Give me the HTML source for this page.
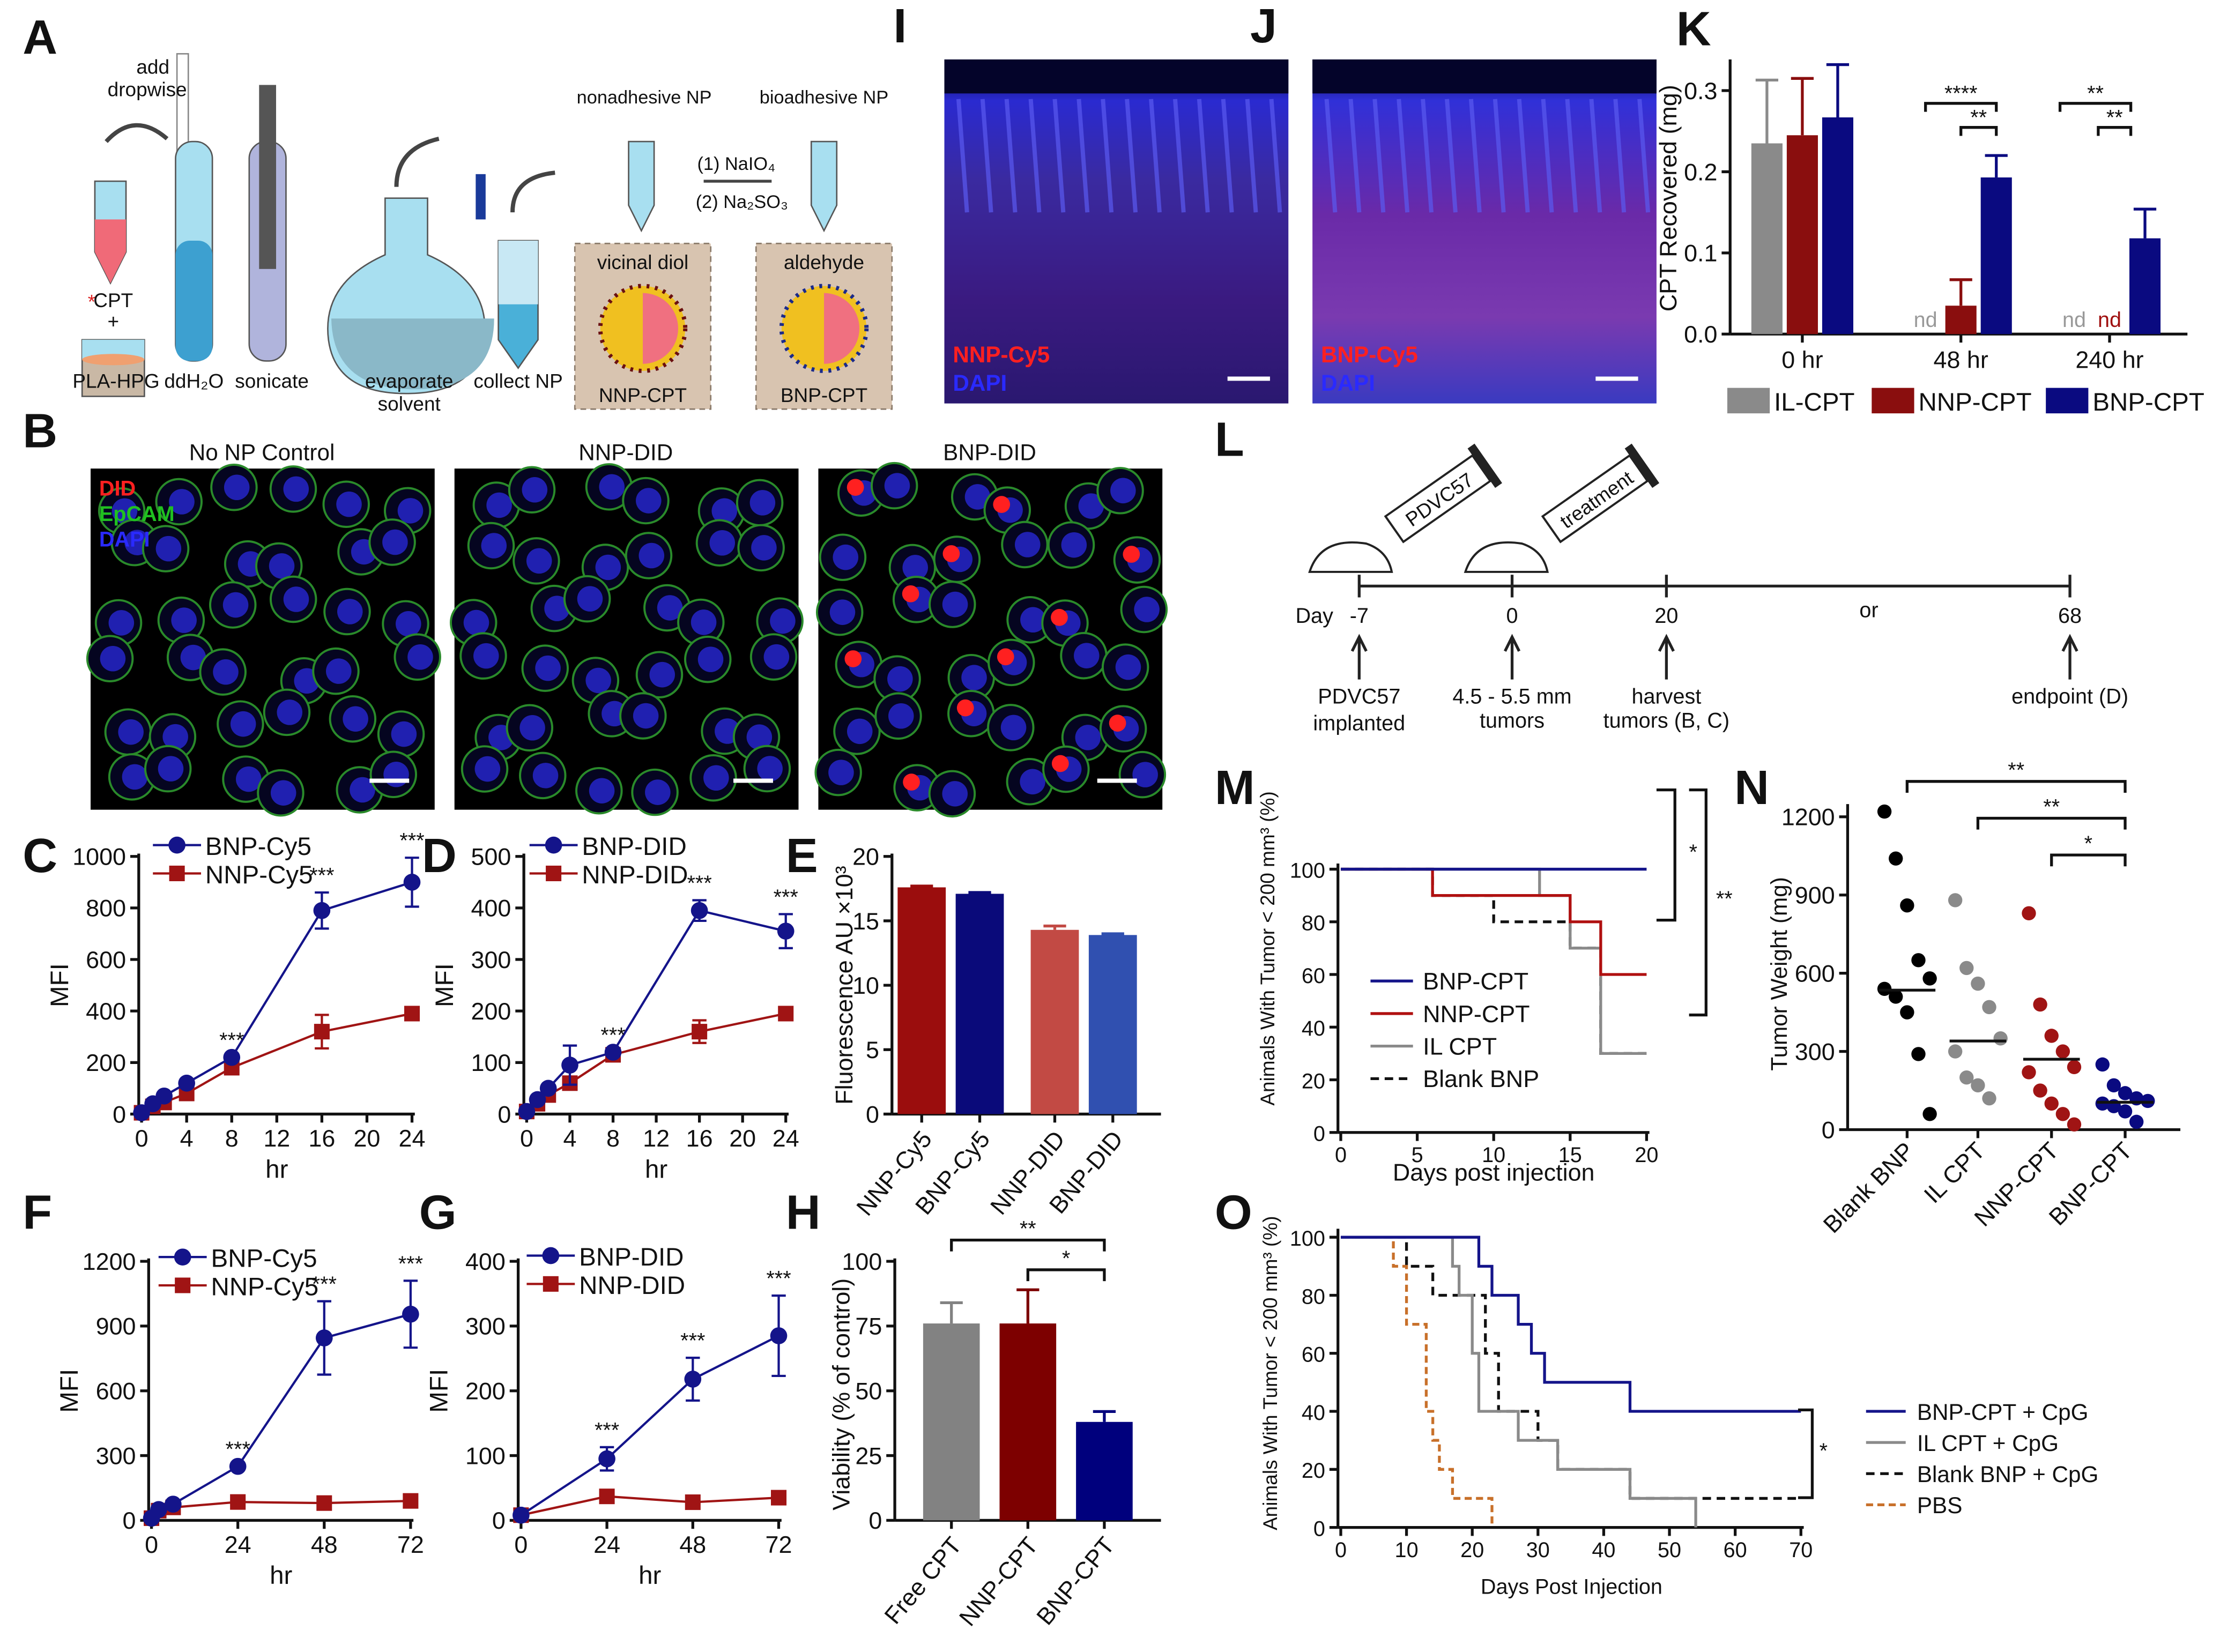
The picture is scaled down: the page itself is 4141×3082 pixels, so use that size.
<!DOCTYPE html>
<html><head><meta charset="utf-8">
<style>
html,body{margin:0;padding:0;background:#fff;}
svg{display:block;font-family:"Liberation Sans",Arial,sans-serif;}
</style></head>
<body>
<svg id="fig" xmlns="http://www.w3.org/2000/svg" width="4141" height="3082" viewBox="0 0 1568 1167">
<defs>
<linearGradient id="tissI" x1="0" y1="0" x2="0" y2="1">
<stop offset="0" stop-color="#04043a"/><stop offset="0.12" stop-color="#2a2ad0"/><stop offset="0.35" stop-color="#3a2aa0"/><stop offset="0.7" stop-color="#3a1a80"/><stop offset="1" stop-color="#2a1870"/></linearGradient>
<linearGradient id="tissJ" x1="0" y1="0" x2="0" y2="1">
<stop offset="0" stop-color="#04043a"/><stop offset="0.12" stop-color="#3030d8"/><stop offset="0.45" stop-color="#6a2aa8"/><stop offset="0.75" stop-color="#7a3ab0"/><stop offset="1" stop-color="#3a3ac0"/></linearGradient>
</defs>
<g id="root"></g>
</svg>
<script>
// ---------- DATA ----------
const cX = [0,1,2,4,8,16,24];
const cBNP = [5,40,70,120,220,790,900];
const cBNPerr = [0,0,0,0,0,70,95];
const cNNP = [5,30,45,80,180,320,390];
const cNNPerr = [0,0,0,0,0,65,0];
const cTicksY = [0,200,400,600,800,1000];
const cTicksX = [0,4,8,12,16,20,24];

const dX = [0,1,2,4,8,16,24];
const dBNP = [5,28,50,95,120,395,355];
const dBNPerr = [0,0,0,38,0,20,33];
const dNNP = [5,20,37,60,115,160,195];
const dNNPerr = [0,0,0,0,0,22,0];
const dTicksY = [0,100,200,300,400,500];

const eCats = ["NNP-Cy5","BNP-Cy5","NNP-DID","BNP-DID"];
const eVals = [17.6,17.1,14.3,13.9];
const eErr = [0.1,0.1,0.3,0.1];
const eTicksY = [0,5,10,15,20];

const fX = [0,2,6,24,48,72];
const fBNP = [10,50,75,250,845,955];
const fBNPerr = [0,0,0,0,170,155];
const fNNP = [10,45,60,85,80,90];
const fTicksY = [0,300,600,900,1200];
const fTicksX = [0,24,48,72];

const gX = [0,24,48,72];
const gBNP = [8,95,218,285];
const gBNPerr = [0,18,33,62];
const gNNP = [8,37,28,35];
const gTicksY = [0,100,200,300,400];

const hCats = ["Free CPT","NNP-CPT","BNP-CPT"];
const hVals = [76,76,38];
const hErr = [8,13,4];
const hTicksY = [0,25,50,75,100];

const kGroups = ["0 hr","48 hr","240 hr"];
const kIL = [0.235,null,null];
const kILerr = [0.078,0,0];
const kNNP = [0.245,0.035,null];
const kNNPerr = [0.07,0.032,0];
const kBNP = [0.267,0.193,0.118];
const kBNPerr = [0.065,0.027,0.036];
const kTicksY = [0,0.1,0.2,0.3];

const mBNPt = [0,20]; const mBNPv = [100,100];
const mNNPt = [0,6,15,17,20]; const mNNPv = [100,90,80,60,60];
const mILt = [0,13,15,17,20]; const mILv = [100,90,70,30,30];
const mBlankt = [0,6,10,15,17,20]; const mBlankv = [100,90,80,70,30,30];
const mTicksX = [0,5,10,15,20];
const mTicksY = [0,20,40,60,80,100];

const nCats = ["Blank BNP","IL CPT","NNP-CPT","BNP-CPT"];
const nBlank = [1220,1040,860,650,580,540,510,450,290,60];
const nIL = [880,620,560,470,350,300,200,170,120];
const nNNP = [830,480,360,300,240,220,150,100,60,20];
const nBNP = [250,170,140,120,110,100,90,70,30];
const nMeans = [535,340,270,105];
const nTicksY = [0,300,600,900,1200];

const oBNPt = [0,21,23,27,29,31,44,70]; const oBNPv = [100,90,80,70,60,50,40,40];
const oILt = [0,17,18,20,21,27,33,44,54]; const oILv = [100,90,80,60,40,30,20,10,0];
const oBlankt = [0,10,14,17,22,24,30,33,44,70]; const oBlankv = [100,90,80,80,60,40,30,20,10,10];
const oPBSt = [0,8,10,13,14,15,17,23]; const oPBSv = [100,90,70,40,30,20,10,0];
const oTicksX = [0,10,20,30,40,50,60,70];
const oTicksY = [0,20,40,60,80,100];

// ---------- helpers ----------
const NS = "http://www.w3.org/2000/svg";
const root = document.getElementById("root");
function el(tag, attrs, parent, text){
  const e = document.createElementNS(NS, tag);
  for (const k in attrs) e.setAttribute(k, attrs[k]);
  if (text !== undefined) e.textContent = text;
  (parent || root).appendChild(e);
  return e;
}
function grp(name, parent){
  const g = el("g", {}, parent);
  
  
  return g;
}
function txt(parent, x, y, s, size, opts){
  opts = opts || {};
  const t = el("text", {x:x, y:y, "font-size":size, fill:opts.fill||"#111", "text-anchor":opts.anchor||"start", "font-weight":opts.weight||"normal"}, parent, s);
  if (opts.rot) t.setAttribute("transform", "rotate("+opts.rot+" "+x+" "+y+")");
  if (opts.italic) t.setAttribute("font-style","italic");
  return t;
}
function lin(d0,d1,r0,r1){ return v => r0 + (v-d0)/(d1-d0)*(r1-r0); }
const BLUE="#14148a", RED="#a01414", GREY="#8a8a8a";

function panelLetter(ch, x, y){
  const t = txt(root, x, y, ch, 34, {weight:"bold"});
  
  
}

function axes(g, x0, x1, y0, y1, sx, sy, xt, yt, xfmt, yfmt, fs){
  fs = fs || 17;
  el("line",{x1:x0,y1:y1-2,x2:x0,y2:y0,stroke:"#111","stroke-width":2},g);
  el("line",{x1:x0,y1:y0,x2:x1,y2:y0,stroke:"#111","stroke-width":2},g);
  const ya = grp("y-axis", g);
  yt.forEach(v=>{ const y=sy(v); el("line",{x1:x0-6,y1:y,x2:x0,y2:y,stroke:"#111","stroke-width":2},ya);
    txt(ya, x0-9, y+6, yfmt?yfmt(v):String(v), fs, {anchor:"end"}); });
  if (xt){ const xa = grp("x-axis", g);
    xt.forEach(v=>{ const x=sx(v); el("line",{x1:x,y1:y0,x2:x,y2:y0+6,stroke:"#111","stroke-width":2},xa);
      txt(xa, x, y0+fs+6, xfmt?xfmt(v):String(v), fs, {anchor:"middle"}); }); }
}

function series(g, name, xs, ys, errs, sx, sy, color, marker){
  const s = grp(name, g);
  let d = xs.map((x,i)=>(i?"L":"M")+sx(x)+","+sy(ys[i])).join(" ");
  el("path",{d:d,fill:"none",stroke:color,"stroke-width":1.6},s);
  xs.forEach((x,i)=>{
    const cx=sx(x), cy=sy(ys[i]);
    if (errs && errs[i]>0){
      el("path",{d:"M"+cx+","+sy(ys[i]-errs[i])+"V"+sy(ys[i]+errs[i])+"M"+(cx-5)+","+sy(ys[i]+errs[i])+"h10M"+(cx-5)+","+sy(ys[i]-errs[i])+"h10",stroke:color,"stroke-width":1.6,fill:"none"},s);
    }
    let m;
    if (marker==="circle") m = el("circle",{cx:cx,cy:cy,r:6,fill:color},s);
    else m = el("rect",{x:cx-5.5,y:cy-5.5,width:11,height:11,fill:color},s);
    
    
  });
}

function legendLine(g, x, y, label, color, marker, fs){
  const l = grp("legend-entry", g);
  el("line",{x1:x,y1:y,x2:x+34,y2:y,stroke:color,"stroke-width":1.6},l);
  if (marker==="circle") el("circle",{cx:x+17,cy:y,r:6,fill:color},l);
  else el("rect",{x:x+11.5,y:y-5.5,width:11,height:11,fill:color},l);
  txt(l, x+37, y+7, label, fs||18);
}

function lineChart(name, box, xDom, yDom, xt, yt, xs1, y1, e1, xs2, y2, e2, stars, legendPos, labels, xlabel){
  const g = grp(name);
  const sx = lin(xDom[0],xDom[1],box[0],box[1]);
  const sy = lin(yDom[0],yDom[1],box[2],box[3]);
  axes(g, box[0]-2, box[1]+2, box[2], box[3], sx, sy, xt, yt);
  txt(g, box[0]-52, (box[2]+box[3])/2, "MFI", 18, {rot:-90, anchor:"middle"});
  txt(g, (box[0]+box[1])/2, box[2]+45, xlabel, 18, {anchor:"middle"});
  series(g, "nnp-series", xs2, y2, e2, sx, sy, RED, "square");
  series(g, "bnp-series", xs1, y1, e1, sx, sy, BLUE, "circle");
  stars.forEach(i=>{ const top = y1[i] + (e1[i]||0); txt(g, sx(xs1[i]), sy(top)-7, "***", 15, {anchor:"middle"}); });
  legendLine(g, legendPos[0], legendPos[1], labels[0], BLUE, "circle");
  legendLine(g, legendPos[0], legendPos[1]+20, labels[1], RED, "square");
}

function bar(g, name, x, w, v, err, sy, color){
  const b = grp(name, g);
  const r = el("rect",{x:x,y:sy(v),width:w,height:sy(0)-sy(v),fill:color},b);
  if (err>0) el("path",{d:"M"+(x+w/2)+","+sy(v)+"V"+sy(v+err)+"M"+(x+w/2-8)+","+sy(v+err)+"h16",stroke:color,"stroke-width":2,fill:"none"},b);
  return r;
}

function stepPath(g, name, ts, vs, sx, sy, color, dash){
  const s = grp(name, g);
  let d = "M"+sx(ts[0])+","+sy(vs[0]);
  for (let i=1;i<ts.length;i++){ d += " H"+sx(ts[i])+" V"+sy(vs[i]); }
  const p = el("path",{d:d,fill:"none",stroke:color,"stroke-width":2},s);
  if (dash) p.setAttribute("stroke-dasharray", dash);
}

// ---------- Panel A (schematic) ----------
(function(){
  const g = grp("panel-a-schematic");
  panelLetter("A", 16, 38);
  el("rect",{x:125,y:38,width:8,height:110,fill:"#fff",stroke:"#888"},g);
  txt(g, 108, 52, "add", 14, {anchor:"middle"}); txt(g, 104, 68, "dropwise", 14, {anchor:"middle"});
  el("path",{d:"M75,100 Q95,78 118,98",stroke:"#444","stroke-width":3,fill:"none"},g);
  el("path",{d:"M67,128 h22 v50 l-11,22 l-11,-22z",fill:"#a8dff0",stroke:"#555"},g);
  el("path",{d:"M67,155 h22 v23 l-11,22 l-11,-22z",fill:"#f06a78"},g);
  txt(g, 62, 218, "*", 14, {fill:"#d22"}); txt(g, 80, 217, "CPT", 14, {anchor:"middle"}); txt(g,80,232,"+",14,{anchor:"middle"});
  el("rect",{x:58,y:240,width:44,height:40,fill:"#c9b8a5",stroke:"#555"},g);
  el("rect",{x:58,y:240,width:44,height:14,fill:"#a8dff0"},g);
  el("ellipse",{cx:80,cy:254,rx:22,ry:4,fill:"#f0a070"},g);
  txt(g, 82, 274, "PLA-HPG", 14, {anchor:"middle"});
  el("rect",{x:124,y:100,width:26,height:155,rx:12,fill:"#a8dff0",stroke:"#555"},g);
  el("rect",{x:124,y:170,width:26,height:85,rx:10,fill:"#3da0d0"},g);
  txt(g, 137, 274, "ddH\u2082O", 14, {anchor:"middle"});
  el("rect",{x:176,y:100,width:26,height:155,rx:12,fill:"#b0b4dc",stroke:"#555"},g);
  el("rect",{x:183,y:60,width:12,height:130,fill:"#555"},g);
  txt(g, 192, 274, "sonicate", 14, {anchor:"middle"});
  el("path",{d:"M272,140 h30 v40 q45,20 40,60 q-5,38 -55,38 q-50,0 -55,-38 q-5,-40 40,-60z",fill:"#a8dff0",stroke:"#555"},g);
  el("path",{d:"M234,225 h115 q0,50 -57,50 q-57,0 -58,-50z",fill:"#8ab8c8"},g);
  txt(g, 289, 274, "evaporate", 14, {anchor:"middle"}); txt(g, 289, 290, "solvent", 14, {anchor:"middle"});
  el("path",{d:"M280,132 Q280,105 310,98",stroke:"#444","stroke-width":3,fill:"none"},g);
  el("rect",{x:336,y:123,width:7,height:32,fill:"#1a3a9a"},g);
  el("path",{d:"M352,170 h28 v70 l-14,20 l-14,-20z",fill:"#4ab0d8",stroke:"#555"},g);
  el("path",{d:"M352,170 h28 v45 h-28z",fill:"#c8e8f4"},g);
  txt(g, 366, 274, "collect NP", 14, {anchor:"middle"});
  el("path",{d:"M362,150 Q362,125 392,122",stroke:"#444","stroke-width":3,fill:"none"},g);
  txt(g, 455, 73, "nonadhesive NP", 13, {anchor:"middle"}); txt(g, 582, 73, "bioadhesive NP", 13, {anchor:"middle"});
  el("path",{d:"M444,100 h18 v45 l-9,18 l-9,-18z",fill:"#a8dff0",stroke:"#555"},g);
  el("path",{d:"M573,100 h18 v45 l-9,18 l-9,-18z",fill:"#a8dff0",stroke:"#555"},g);
  txt(g, 520, 120, "(1) NaIO\u2084", 13, {anchor:"middle"}); txt(g, 524, 147, "(2) Na\u2082SO\u2083", 13, {anchor:"middle"});
  el("line",{x1:497,y1:128,x2:545,y2:128,stroke:"#444","stroke-width":2},g);
  [[406,'vicinal diol','NNP-CPT','#6a1010'],[534,'aldehyde','BNP-CPT','#1a2a8a']].forEach(b=>{
    el("rect",{x:b[0],y:172,width:96,height:117,fill:"#d8c4b0",stroke:"#8a7a6a","stroke-dasharray":"4 3"},g);
    txt(g, b[0]+48, 190, b[1], 14, {anchor:"middle"});
    el("circle",{cx:b[0]+48,cy:232,r:30,fill:"#f0c020",stroke:b[3],"stroke-width":3,"stroke-dasharray":"2 4"},g);
    el("path",{d:"M"+(b[0]+48)+",207 a24,24 0 0 1 0,50z",fill:"#f07080"},g);
    txt(g, b[0]+48, 284, b[2], 14, {anchor:"middle"});
  });
})();

// ---------- Panels I, J (tissue images) ----------
(function(){
  [["I",667,"tissI","NNP-Cy5"],["J",927,"tissJ","BNP-Cy5"]].forEach(p=>{
    const g = grp("panel-"+p[0].toLowerCase()+"-image");
    panelLetter(p[0], p[1]-36+(p[0]==="I"?0:-8), 30);
    el("rect",{x:p[1],y:42,width:243,height:243,fill:"url(#"+p[2]+")"},g);
    el("rect",{x:p[1],y:42,width:243,height:24,fill:"#04042a"},g);
    for (let k=0;k<14;k++){ el("path",{d:"M"+(p[1]+10+k*17)+",70 l6,80",stroke:"#5a5af0","stroke-width":3,opacity:0.7},g); }
    txt(g, p[1]+6, 256, p[3], 16, {fill:"#ff2020",weight:"bold"});
    txt(g, p[1]+6, 276, "DAPI", 16, {fill:"#2a2aff",weight:"bold"});
    el("rect",{x:p[1]+200,y:266,width:30,height:3,fill:"#fff"},g);
  });
})();

// ---------- Panel B (microscopy) ----------
(function(){
  const g = grp("panel-b-microscopy");
  panelLetter("B", 16, 316);
  const titles=["No NP Control","NNP-DID","BNP-DID"], xs=[64,321,578];
  xs.forEach((x0,p)=>{
    const pg = grp("micrograph-"+(p+1), g);
    txt(pg, x0+121, 325, titles[p], 16, {anchor:"middle"});
    el("rect",{x:x0,y:331,width:243,height:241,fill:"#000"},pg);
    for (let i=0;i<6;i++) for (let j=0;j<6;j++){
      const cx = x0+22+i*40+9*Math.sin(i*3.1+j*1.7+p), cy = 352+j*40+9*Math.cos(i*1.3+j*2.9+p);
      el("circle",{cx:cx,cy:cy,r:16,fill:"#050520",stroke:"#2a8a2a","stroke-width":1.5},pg);
      el("circle",{cx:cx+2,cy:cy,r:9,fill:"#2020b0"},pg);
      if (p===2 && (i+j)%3===0) el("circle",{cx:cx-4,cy:cy-4,r:6,fill:"#ff2020"},pg);
    }
    el("rect",{x:x0+197,y:550,width:28,height:3,fill:"#fff"},pg);
  });
  txt(g, 70, 350, "DID", 15, {fill:"#ff2020",weight:"bold"});
  txt(g, 70, 368, "EpCAM", 15, {fill:"#20c020",weight:"bold"});
  txt(g, 70, 386, "DAPI", 15, {fill:"#2a2aff",weight:"bold"});
})();

// ---------- Panel K ----------
(function(){
  const g = grp("panel-k-cpt-recovered");
  panelLetter("K", 1184, 32);
  const x0=1222, x1=1545, y0=236;
  const sy = lin(0,0.3,236,64);
  axes(g, x0, x1, y0, 44, null, sy, null, kTicksY, null, v=>v.toFixed(1));
  txt(g, 1184, 140, "CPT Recovered (mg)", 17, {rot:-90, anchor:"middle"});
  const cxs=[1273,1385,1490];
  const cols=[GREY,"#8a0e0e","#0a0a80"];
  const sets=[[kIL,kILerr,"il-cpt"],[kNNP,kNNPerr,"nnp-cpt"],[kBNP,kBNPerr,"bnp-cpt"]];
  kGroups.forEach((lab,i)=>{
    el("line",{x1:cxs[i],y1:y0,x2:cxs[i],y2:y0+6,stroke:"#111","stroke-width":2},g);
    txt(g, cxs[i], y0+24, lab, 17, {anchor:"middle"});
    sets.forEach((s,j)=>{
      const bx = cxs[i]-36+j*25;
      if (s[0][i]===null){ txt(g, bx+11, y0-5, "nd", 15, {anchor:"middle", fill: j===0?"#999":"#a01010"}); }
      else bar(g, "bar-"+s[2]+"-"+i, bx, 22, s[0][i], s[1][i], sy, cols[j]);
    });
  });
  [[1360,1410,73,"****"],[1385,1410,90,"**"],[1455,1505,73,"**"],[1482,1505,90,"**"]].forEach(b=>{
    el("path",{d:"M"+b[0]+","+(b[2]+6)+"V"+b[2]+"H"+b[1]+"V"+(b[2]+6),stroke:"#111","stroke-width":2,fill:"none"},g);
    txt(g,(b[0]+b[1])/2,b[2]-2,b[3],15,{anchor:"middle"});
  });
  const leg=[["IL-CPT",1220],["NNP-CPT",1322],["BNP-CPT",1445]];
  leg.forEach((l,j)=>{ const e=grp("legend-entry",g); el("rect",{x:l[1],y:274,width:30,height:18,fill:cols[j]},e); txt(e,l[1]+33,290,l[0],18); });
})();

// ---------- Panel L (timeline) ----------
(function(){
  const g = grp("panel-l-timeline");
  panelLetter("L", 858, 322);
  el("line",{x1:960,y1:414,x2:1462,y2:414,stroke:"#222","stroke-width":2},g);
  [[960,"-7"],[1068,"0"],[1177,"20"],[1462,"68"]].forEach(t=>{
    el("line",{x1:t[0],y1:406,x2:t[0],y2:422,stroke:"#222","stroke-width":2},g);
    txt(g,t[0],440,t[1],15,{anchor:"middle"});
    el("path",{d:"M"+t[0]+",480 V452 M"+(t[0]-5)+",460 L"+t[0]+",450 L"+(t[0]+5)+",460",stroke:"#222","stroke-width":2,fill:"none"},g);
  });
  txt(g,915,440,"Day",15); txt(g,1320,436,"or",15,{anchor:"middle"});
  txt(g,960,497,"PDVC57",15,{anchor:"middle"}); txt(g,960,516,"implanted",15,{anchor:"middle"});
  txt(g,1068,497,"4.5 - 5.5 mm",15,{anchor:"middle"}); txt(g,1068,514,"tumors",15,{anchor:"middle"});
  txt(g,1177,497,"harvest",15,{anchor:"middle"}); txt(g,1177,514,"tumors (B, C)",15,{anchor:"middle"});
  txt(g,1462,497,"endpoint (D)",15,{anchor:"middle"});
  [[925,"PDVC57",992],[1035,"treatment",1103]].forEach(m=>{
    el("path",{d:"M"+m[0]+",404 q8,-25 40,-20 q15,5 18,20z",fill:"#fff",stroke:"#222","stroke-width":1.5},g);
    const s = el("g",{transform:"rotate(-35 "+m[2]+" 370)"},g);
    el("rect",{x:m[2]-8,y:358,width:75,height:22,fill:"#fff",stroke:"#222","stroke-width":1.5},s);
    el("rect",{x:m[2]+67,y:352,width:6,height:34,fill:"#222"},s);
    txt(s,m[2]+30,375,m[1],14,{anchor:"middle"});
  });
})();

// ---------- C, D ----------
panelLetter("C", 16, 616);
lineChart("panel-c-chart",[100,291,787,605],[0,24],[0,1000],cTicksX,cTicksY,cX,cBNP,cBNPerr,cX,cNNP,cNNPerr,[4,5,6],[108,597],["BNP-Cy5","NNP-Cy5"],"hr");
panelLetter("D", 298, 616);
lineChart("panel-d-chart",[372,555,787,605],[0,24],[0,500],cTicksX,dTicksY,dX,dBNP,dBNPerr,dX,dNNP,dNNPerr,[4,5,6],[374,597],["BNP-DID","NNP-DID"],"hr");

// ---------- E ----------
(function(){
  const g = grp("panel-e-fluorescence");
  panelLetter("E", 555, 616);
  const sy = lin(0,20,787,605);
  axes(g, 630, 820, 787, 605, null, sy, null, eTicksY);
  txt(g, 602, 696, "Fluorescence AU \u00d710\u00b3", 17, {rot:-90, anchor:"middle"});
  const cols=["#9b0d0d","#0a0a7a","#c24a44","#3050b0"], xs=[651,692,745,786];
  eCats.forEach((c,i)=>{
    bar(g,"bar-"+c.toLowerCase(),xs[i]-17,34,eVals[i],eErr[i],sy,cols[i]);
    el("line",{x1:xs[i],y1:787,x2:xs[i],y2:793,stroke:"#111","stroke-width":2},g);
    txt(g,xs[i]+8,805,c,17,{anchor:"end",rot:-50});
  });
})();

// ---------- F, G ----------
panelLetter("F", 16, 868);
lineChart("panel-f-chart",[107,290,1074,891],[0,72],[0,1200],fTicksX,fTicksY,fX,fBNP,fBNPerr,fX,fNNP,[],[3,4,5],[112,888],["BNP-Cy5","NNP-Cy5"],"hr");
panelLetter("G", 296, 868);
lineChart("panel-g-chart",[368,550,1074,891],[0,72],[0,400],fTicksX,gTicksY,gX,gBNP,gBNPerr,gX,gNNP,[],[1,2,3],[372,887],["BNP-DID","NNP-DID"],"hr");

// ---------- H ----------
(function(){
  const g = grp("panel-h-viability");
  panelLetter("H", 555, 868);
  const sy = lin(0,100,1074,891);
  axes(g, 632, 820, 1074, 891, null, sy, null, hTicksY);
  txt(g, 600, 985, "Viability (% of control)", 17, {rot:-90, anchor:"middle"});
  const cols=["#828282","#7d0000","#00007d"], xs=[672,726,780];
  hCats.forEach((c,i)=>{
    bar(g,"bar-"+c.toLowerCase().replace(' ','-'),xs[i]-20,40,hVals[i],hErr[i],sy,cols[i]);
    el("line",{x1:xs[i],y1:1074,x2:xs[i],y2:1080,stroke:"#111","stroke-width":2},g);
    txt(g,xs[i]+8,1092,c,17,{anchor:"end",rot:-50});
  });
  [[672,780,876,"**"],[726,780,897,"*"]].forEach(b=>{
    el("path",{d:"M"+b[0]+","+(b[2]+8)+"V"+b[2]+"H"+b[1]+"V"+(b[2]+8),stroke:"#111","stroke-width":2,fill:"none"},g);
    txt(g,(b[0]+b[1])/2,b[2]-3,b[3],15,{anchor:"middle"});
  });
})();

// ---------- M ----------
(function(){
  const g = grp("panel-m-survival");
  panelLetter("M", 858, 568);
  const sx = lin(0,20,947,1163), sy = lin(0,100,800,614);
  axes(g, 945, 1165, 800, 612, sx, sy, mTicksX, mTicksY, null, null, 15);
  txt(g, 900, 670, "Animals With Tumor < 200 mm\u00b3 (%)", 14, {rot:-90, anchor:"middle"});
  txt(g, 1055, 834, "Days post injection", 17, {anchor:"middle"});
  stepPath(g,"blank-bnp-line",mBlankt,mBlankv,sx,sy,"#111","6 4");
  stepPath(g,"il-cpt-line",mILt,mILv,sx,sy,GREY);
  stepPath(g,"nnp-cpt-line",mNNPt,mNNPv,sx,sy,"#b01010");
  stepPath(g,"bnp-cpt-line",mBNPt,mBNPv,sx,sy,"#14148a");
  [["BNP-CPT","#14148a",""],["NNP-CPT","#b01010",""],["IL CPT",GREY,""],["Blank BNP","#111","6 4"]].forEach((l,i)=>{
    const e = grp("legend-entry",g); const y=693+i*23;
    const ln = el("line",{x1:968,y1:y,x2:998,y2:y,stroke:l[1],"stroke-width":2},e); if(l[2]) ln.setAttribute("stroke-dasharray",l[2]);
    txt(e,1005,y+6,l[0],17);
  });
  el("path",{d:"M1170,558 H1183 V650 H1170",stroke:"#111","stroke-width":2,fill:"none"},g);
  el("path",{d:"M1193,558 H1205 V717 H1193",stroke:"#111","stroke-width":2,fill:"none"},g);
  txt(g,1193,607,"*",15); txt(g,1212,640,"**",15);
})();

// ---------- N ----------
(function(){
  const g = grp("panel-n-tumor-weight");
  panelLetter("N", 1225, 568);
  const sy = lin(0,1200,798,577);
  axes(g, 1305, 1540, 798, 570, null, sy, null, nTicksY);
  txt(g, 1262, 688, "Tumor Weight (mg)", 16, {rot:-90, anchor:"middle"});
  const xs=[1347,1397,1449,1501], cols=["#000","#8a8a8a","#a01414","#0a0a80"];
  const sets=[nBlank,nIL,nNNP,nBNP];
  nCats.forEach((c,i)=>{
    const sg = grp("scatter-"+c.toLowerCase().replace(' ','-'), g);
    sets[i].forEach((v,k)=>{ const off=((k%5)-2)*8; const d=el("circle",{cx:xs[i]+off,cy:sy(v),r:5,fill:cols[i]},sg);
        });
    el("line",{x1:xs[i]-20,y1:sy(nMeans[i]),x2:xs[i]+20,y2:sy(nMeans[i]),stroke:"#111","stroke-width":2},sg);
    el("line",{x1:xs[i],y1:798,x2:xs[i],y2:804,stroke:"#111","stroke-width":2},g);
    txt(g,xs[i]+6,814,c,17,{anchor:"end",rot:-45});
  });
  [[1347,1501,552,"**"],[1397,1501,578,"**"],[1449,1501,604,"*"]].forEach(b=>{
    el("path",{d:"M"+b[0]+","+(b[2]+8)+"V"+b[2]+"H"+b[1]+"V"+(b[2]+8),stroke:"#111","stroke-width":2,fill:"none"},g);
    txt(g,(b[0]+b[1])/2,b[2]-3,b[3],15,{anchor:"middle"});
  });
})();

// ---------- O ----------
(function(){
  const g = grp("panel-o-survival");
  panelLetter("O", 858, 868);
  const sx = lin(0,70,947,1272), sy = lin(0,100,1079,874);
  axes(g, 945, 1274, 1079, 870, sx, sy, oTicksX, oTicksY, null, null, 15);
  txt(g, 902, 970, "Animals With Tumor < 200 mm\u00b3 (%)", 14, {rot:-90, anchor:"middle"});
  txt(g, 1110, 1126, "Days Post Injection", 15, {anchor:"middle"});
  stepPath(g,"pbs-line",oPBSt,oPBSv,sx,sy,"#c8702a","5 3");
  stepPath(g,"blank-bnp-cpg-line",oBlankt,oBlankv,sx,sy,"#111","6 4");
  stepPath(g,"il-cpt-cpg-line",oILt,oILv,sx,sy,GREY);
  stepPath(g,"bnp-cpt-cpg-line",oBNPt,oBNPv,sx,sy,"#14148a");
  [["BNP-CPT + CpG","#14148a",""],["IL CPT + CpG",GREY,""],["Blank BNP + CpG","#111","6 4"],["PBS","#c8702a","5 3"]].forEach((l,i)=>{
    const e = grp("legend-entry",g); const y=997+i*22;
    const ln = el("line",{x1:1318,y1:y,x2:1346,y2:y,stroke:l[1],"stroke-width":2},e); if(l[2]) ln.setAttribute("stroke-dasharray",l[2]);
    txt(e,1354,y+6,l[0],16);
  });
  el("path",{d:"M1270,996 H1280 V1058 H1270",stroke:"#111","stroke-width":2,fill:"none"},g);
  txt(g,1285,1030,"*",15);
})();
</script>
</body></html>
